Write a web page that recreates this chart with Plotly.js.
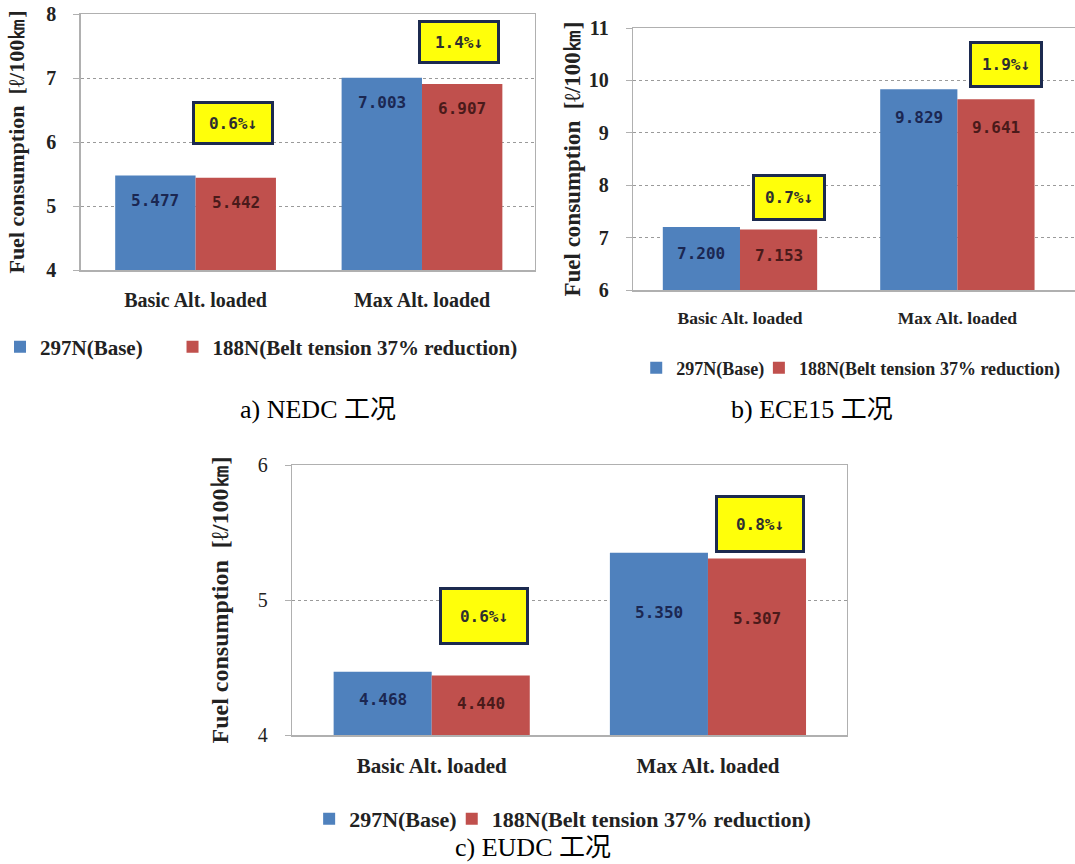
<!DOCTYPE html>
<html>
<head>
<meta charset="utf-8">
<script src="https://cdn.plot.ly/plotly-3.0.1.min.js"></script>
<style>
  html, body { margin: 0; padding: 0; background: #fff; }
  #chart { width: 1075px; height: 864px; }
</style>
</head>
<body>
<div id="chart"></div>
<script>
// ---------------- data ----------------
const categories = ['Basic Alt. loaded', 'Max Alt. loaded'];
const seriesNames = ['297N(Base)', '188N(Belt tension 37% reduction)'];

const nedcBase = [5.477, 7.003];
const nedcReduced = [5.442, 6.907];
const nedcDrop = ['0.6%↓', '1.4%↓'];

const eceBase = [7.200, 9.829];
const eceReduced = [7.153, 9.641];
const eceDrop = ['0.7%↓', '1.9%↓'];

const eudcBase = [4.468, 5.350];
const eudcReduced = [4.440, 5.307];
const eudcDrop = ['0.6%↓', '0.8%↓'];

const nedcTicks = [4, 5, 6, 7, 8];
const eceTicks = [6, 7, 8, 9, 10, 11];
const eudcTicks = [4, 5, 6];

const captions = ['a) NEDC 工况', 'b) ECE15 工况', 'c) EUDC 工况'];
const yTitle = 'Fuel consumption  [ℓ/100㎞]';

// ---------------- style / layout ----------------
const W = 1075, H = 864;
const BAR_GAP = 0.29;
const colors = ['#4f81bd', '#c0504d'];
const labelColors = ['#1b2752', '#4a1a1a'];
const SERIF = '"Liberation Serif", "Times New Roman", serif';
const CJK_SERIF = '"Liberation Serif", "Noto Sans CJK SC", serif';
const MONO = '"DejaVu Sans Mono", monospace';

const charts = [
  { base: nedcBase, reduced: nedcReduced, drop: nedcDrop, ticks: nedcTicks,
    px: [78, 533], py: [14, 270], xrange: [-0.507, 1.497],
    tickSize: 20, tickBold: true, catSize: 20, titleSize: 22, titleStandoff: 15, legendSize: 21,
    labelShift: [-25, -25], calloutY: [6.30, 7.56], calloutShift: -3, calloutW: 70, calloutH: 32,
    legendX: [-3, 170], legendY: 347, caption: [316, 410], mirrorRight: true },
  { base: eceBase, reduced: eceReduced, drop: eceDrop, ticks: eceTicks,
    px: [632, 1075], py: [28, 290], xrange: [-0.491, 1.541],
    tickSize: 20, tickBold: true, catSize: 17.5, titleSize: 23, titleStandoff: 1, legendSize: 18,
    labelShift: [-26, -28], calloutY: [7.77, 10.31], calloutShift: 10, calloutW: 62, calloutH: 35,
    legendX: [635, 758], legendY: 368, caption: [811, 410], mirrorRight: false },
  { base: eudcBase, reduced: eudcReduced, drop: eudcDrop, ticks: eudcTicks,
    px: [290, 846], py: [465, 735], xrange: [-0.505, 1.502],
    tickSize: 20, tickBold: false, catSize: 21, titleSize: 24, titleStandoff: 22, legendSize: 22,
    labelShift: [-28, -60], calloutY: [4.88, 5.56], calloutShift: 3, calloutW: 78, calloutH: 46,
    legendX: [307, 450], legendY: 819, caption: [531, 847], mirrorRight: true },
];

const data = [];
const layout = {
  width: W, height: H,
  margin: { l: 0, r: 0, t: 0, b: 0 },
  paper_bgcolor: '#ffffff',
  plot_bgcolor: '#ffffff',
  barmode: 'group',
  bargap: BAR_GAP,
  bargroupgap: 0,
  showlegend: true,
  annotations: [],
  font: { family: SERIF, color: '#222' },
};

const bw = (1 - BAR_GAP) / 2;  // width of one bar in category units
let legendCount = 0;

charts.forEach((c, k) => {
  const sfx = k === 0 ? '' : String(k + 1);
  const xa = 'x' + sfx, ya = 'y' + sfx;
  const xs = categories.map((_, i) => i);

  [c.base, c.reduced].forEach((vals, s) => {
    legendCount += 1;
    const legendId = legendCount === 1 ? 'legend' : 'legend' + legendCount;
    data.push({
      type: 'bar',
      x: xs,
      y: vals,
      name: seriesNames[s],
      marker: { color: colors[s], line: { width: 0 } },
      xaxis: xa, yaxis: ya,
      legend: legendId,
      hoverinfo: 'skip',
    });
    layout[legendId] = {
      orientation: 'h',
      x: c.legendX[s] / W,
      y: 1 - c.legendY / H,
      xanchor: 'left',
      yanchor: 'middle',
      itemwidth: 30,
      font: { family: SERIF, size: c.legendSize, color: '#222', weight: 'bold' },
      bgcolor: 'rgba(0,0,0,0)',
    };
    // value labels inside bars
    vals.forEach((v, i) => {
      layout.annotations.push({
        xref: xa, yref: ya,
        x: i + (s === 0 ? -bw / 2 : bw / 2),
        y: v,
        yshift: c.labelShift[i],
        text: '<b>' + v.toFixed(3) + '</b>',
        showarrow: false,
        font: { family: MONO, size: 16, color: labelColors[s] },
      });
    });
  });

  // reduction callouts
  c.drop.forEach((t, i) => {
    layout.annotations.push({
      xref: xa, yref: ya,
      x: i + bw / 2, y: c.calloutY[i],
      xshift: c.calloutShift,
      text: '<b>' + t + '</b>',
      showarrow: false,
      bgcolor: '#ffff0a',
      bordercolor: '#1c2a4f',
      borderwidth: 3,
      borderpad: 3,
      width: c.calloutW,
      height: c.calloutH,
      font: { family: MONO, size: 16, color: '#2e2e30' },
    });
  });

  layout['xaxis' + sfx] = {
    domain: [c.px[0] / W, c.px[1] / W],
    anchor: ya,
    range: c.xrange,
    tickvals: xs,
    ticktext: categories.map(s => '<b>' + s + '</b>'),
    tickfont: { family: SERIF, size: c.catSize, color: '#222' },
    ticks: '',
    ticklabelstandoff: 11,
    showgrid: false,
    zeroline: false,
    showline: true,
    linecolor: '#b0b0b0',
    linewidth: 1.5,
    mirror: true,
    fixedrange: true,
  };
  layout['yaxis' + sfx] = {
    domain: [1 - c.py[1] / H, 1 - c.py[0] / H],
    anchor: xa,
    range: [c.ticks[0], c.ticks[c.ticks.length - 1]],
    tickvals: c.ticks,
    ticktext: c.ticks.map(v => c.tickBold ? '<b>' + v + '</b>' : String(v)),
    tickfont: { family: SERIF, size: c.tickSize, color: '#222' },
    ticks: 'outside',
    ticklen: 6,
    tickcolor: '#b0b0b0',
    ticklabelstandoff: 13,
    showgrid: true,
    gridcolor: '#9a9a9a',
    griddash: 'dot',
    gridwidth: 1,
    zeroline: false,
    showline: true,
    linecolor: '#b0b0b0',
    linewidth: 1.5,
    mirror: c.mirrorRight,
    title: {
      text: '<b>' + yTitle + '</b>',
      font: { family: SERIF, size: c.titleSize, color: '#222' },
      standoff: c.titleStandoff,
    },
    fixedrange: true,
  };

  layout.annotations.push({
    xref: 'paper', yref: 'paper',
    x: c.caption[0] / W, y: 1 - c.caption[1] / H,
    xanchor: 'center', yanchor: 'middle',
    text: captions[k],
    showarrow: false,
    font: { family: CJK_SERIF, size: 26, color: '#000' },
  });
});

Plotly.newPlot('chart', data, layout, { displayModeBar: false, staticPlot: true });
</script>
</body>
</html>
